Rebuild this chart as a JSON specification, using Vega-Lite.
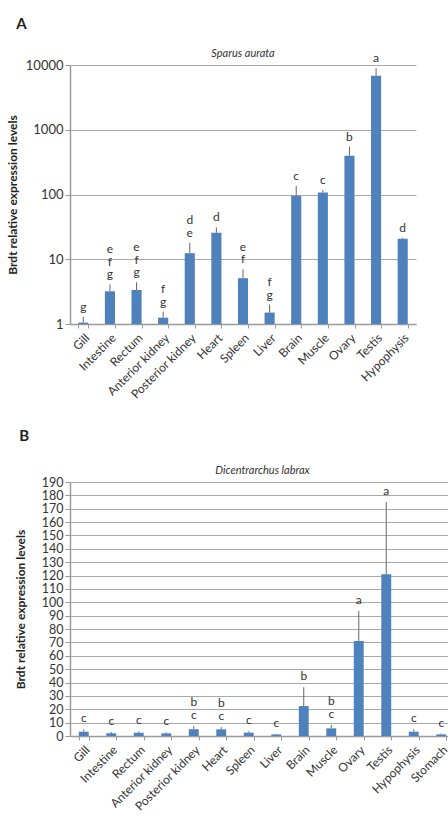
{
  "$schema": "https://vega.github.io/schema/vega-lite/v6.json",
  "background": "white",
  "padding": {"left": 6, "top": 17, "right": 0, "bottom": 0},
  "datasets": {
    "sa": [
      {"tissue": "Gill", "value": 1.05, "err": 1.3, "letter1": "g", "letter2": "", "letter3": ""},
      {"tissue": "Intestine", "value": 3.2, "err": 4.1, "letter1": "g", "letter2": "f", "letter3": "e"},
      {"tissue": "Rectum", "value": 3.35, "err": 4.4, "letter1": "g", "letter2": "f", "letter3": "e"},
      {"tissue": "Anterior kidney", "value": 1.25, "err": 1.55, "letter1": "g", "letter2": "f", "letter3": ""},
      {"tissue": "Posterior kidney", "value": 12.4, "err": 18, "letter1": "e", "letter2": "d", "letter3": ""},
      {"tissue": "Heart", "value": 25.7, "err": 31, "letter1": "d", "letter2": "", "letter3": ""},
      {"tissue": "Spleen", "value": 5.1, "err": 7, "letter1": "f", "letter2": "e", "letter3": ""},
      {"tissue": "Liver", "value": 1.5, "err": 2.0, "letter1": "g", "letter2": "f", "letter3": ""},
      {"tissue": "Brain", "value": 96, "err": 135, "letter1": "c", "letter2": "", "letter3": ""},
      {"tissue": "Muscle", "value": 107, "err": 117, "letter1": "c", "letter2": "", "letter3": ""},
      {"tissue": "Ovary", "value": 397, "err": 547, "letter1": "b", "letter2": "", "letter3": ""},
      {"tissue": "Testis", "value": 6840, "err": 8900, "letter1": "a", "letter2": "", "letter3": ""},
      {"tissue": "Hypophysis", "value": 20.8, "err": 21.5, "letter1": "d", "letter2": "", "letter3": ""}
    ],
    "dl": [
      {"tissue": "Gill", "value": 3.2, "err": 5, "letter1": "c", "letter2": ""},
      {"tissue": "Intestine", "value": 2, "err": 3, "letter1": "c", "letter2": ""},
      {"tissue": "Rectum", "value": 2.5, "err": 3.5, "letter1": "c", "letter2": ""},
      {"tissue": "Anterior kidney", "value": 2, "err": 2.8, "letter1": "c", "letter2": ""},
      {"tissue": "Posterior kidney", "value": 5, "err": 7.5, "letter1": "c", "letter2": "b"},
      {"tissue": "Heart", "value": 5, "err": 6.7, "letter1": "c", "letter2": "b"},
      {"tissue": "Spleen", "value": 2.5, "err": 3.5, "letter1": "c", "letter2": ""},
      {"tissue": "Liver", "value": 1.2, "err": 1.6, "letter1": "c", "letter2": ""},
      {"tissue": "Brain", "value": 22.4, "err": 36.5, "letter1": "b", "letter2": ""},
      {"tissue": "Muscle", "value": 5.7, "err": 8.2, "letter1": "c", "letter2": "b"},
      {"tissue": "Ovary", "value": 71, "err": 93.5, "letter1": "a", "letter2": ""},
      {"tissue": "Testis", "value": 121, "err": 175, "letter1": "a", "letter2": ""},
      {"tissue": "Hypophysis", "value": 3.2, "err": 5, "letter1": "c", "letter2": ""},
      {"tissue": "Stomach", "value": 1.2, "err": 1.8, "letter1": "c", "letter2": ""}
    ]
  },
  "config": {
    "font": "Lato",
    "view": {"stroke": null},
    "axis": {
      "labelColor": "#333333",
      "titleColor": "#222222",
      "domainColor": "#9a9a9a",
      "tickColor": "#9a9a9a",
      "gridColor": "#a8a8a8",
      "labelFont": "Lato",
      "titleFont": "Lato"
    },
    "text": {"font": "Lato", "fontSize": 12, "baseline": "bottom", "color": "#333333"},
    "title": {"font": "Lato", "color": "#222222"}
  },
  "spacing": 28,
  "vconcat": [
    {
      "title": {"text": "A", "anchor": "start", "frame": "bounds", "fontSize": 15, "fontWeight": "bold", "dx": 10, "offset": 16},
      "vconcat": [
        {
          "title": {"text": "Sparus aurata", "fontStyle": "italic", "fontWeight": "normal", "fontSize": 11, "anchor": "middle", "frame": "group", "offset": -7, "color": "#333333"},
          "width": 346,
          "height": 259,
          "data": {"name": "sa"},
          "encoding": {
            "x": {
              "field": "tissue", "type": "nominal", "sort": null,
              "scale": {"paddingInner": 0.62, "paddingOuter": 0.31},
              "axis": {"title": null, "labelAngle": -45, "labelFontSize": 12, "labelPadding": 4, "tickBand": "extent", "tickSize": 4, "grid": false, "domainWidth": 1.5}
            }
          },
          "layer": [
            {
              "mark": {"type": "bar", "color": "#4F81BD"},
              "encoding": {
                "y": {
                  "field": "value", "type": "quantitative",
                  "scale": {"type": "log", "domain": [1, 10000], "nice": false},
                  "axis": {"title": "Brdt relative expression levels", "titleFontWeight": "bold", "titleFontSize": 12, "titlePadding": 6, "values": [1, 10, 100, 1000, 10000], "format": "d", "labelFontSize": 13, "tickSize": 5, "grid": true, "domainWidth": 1.5, "labelOverlap": false}
                },
                "y2": {"datum": 1}
              }
            },
            {
              "mark": {"type": "rule", "color": "#666666", "strokeWidth": 1},
              "encoding": {
                "y": {"field": "value", "type": "quantitative",
                  "axis": {"title": "Brdt relative expression levels", "titleFontWeight": "bold", "titleFontSize": 12, "titlePadding": 6, "values": [1, 10, 100, 1000, 10000], "format": "d", "labelFontSize": 13, "tickSize": 5, "grid": true, "domainWidth": 1.5, "labelOverlap": false}},
                "y2": {"field": "err"}
              }
            },
            {
              "mark": {"type": "text", "dy": -3},
              "encoding": {
                "y": {"field": "err", "type": "quantitative",
                  "axis": {"title": "Brdt relative expression levels", "titleFontWeight": "bold", "titleFontSize": 12, "titlePadding": 6, "values": [1, 10, 100, 1000, 10000], "format": "d", "labelFontSize": 13, "tickSize": 5, "grid": true, "domainWidth": 1.5, "labelOverlap": false}},
                "text": {"field": "letter1"}
              }
            },
            {
              "transform": [{"filter": "datum.letter2 != ''"}],
              "mark": {"type": "text", "dy": -15.5},
              "encoding": {
                "y": {"field": "err", "type": "quantitative",
                  "axis": {"title": "Brdt relative expression levels", "titleFontWeight": "bold", "titleFontSize": 12, "titlePadding": 6, "values": [1, 10, 100, 1000, 10000], "format": "d", "labelFontSize": 13, "tickSize": 5, "grid": true, "domainWidth": 1.5, "labelOverlap": false}},
                "text": {"field": "letter2"}
              }
            },
            {
              "transform": [{"filter": "datum.letter3 != ''"}],
              "mark": {"type": "text", "dy": -28},
              "encoding": {
                "y": {"field": "err", "type": "quantitative",
                  "axis": {"title": "Brdt relative expression levels", "titleFontWeight": "bold", "titleFontSize": 12, "titlePadding": 6, "values": [1, 10, 100, 1000, 10000], "format": "d", "labelFontSize": 13, "tickSize": 5, "grid": true, "domainWidth": 1.5, "labelOverlap": false}},
                "text": {"field": "letter3"}
              }
            }
          ]
        }
      ]
    },
    {
      "title": {"text": "B", "anchor": "start", "frame": "bounds", "fontSize": 15, "fontWeight": "bold", "dx": 5, "offset": 21},
      "vconcat": [
        {
          "title": {"text": "Dicentrarchus labrax", "fontStyle": "italic", "fontWeight": "normal", "fontSize": 11, "anchor": "middle", "frame": "group", "offset": 0, "color": "#333333"},
          "width": 385,
          "height": 254,
          "data": {"name": "dl"},
          "encoding": {
            "x": {
              "field": "tissue", "type": "nominal", "sort": null,
              "scale": {"paddingInner": 0.64, "paddingOuter": 0.32},
              "axis": {"title": null, "labelAngle": -45, "labelFontSize": 12, "labelPadding": 4, "tickBand": "extent", "tickSize": 4, "grid": false, "domainWidth": 1.5}
            }
          },
          "layer": [
            {
              "mark": {"type": "bar", "color": "#4F81BD"},
              "encoding": {
                "y": {
                  "field": "value", "type": "quantitative",
                  "scale": {"domain": [0, 190], "nice": false},
                  "axis": {"title": "Brdt relative expression levels", "titleFontWeight": "bold", "titleFontSize": 12, "titlePadding": 14, "values": [0, 10, 20, 30, 40, 50, 60, 70, 80, 90, 100, 110, 120, 130, 140, 150, 160, 170, 180, 190], "labelFontSize": 12.5, "labelOverlap": false, "labelBound": false, "labelFlush": false, "tickSize": 5, "grid": true, "domainWidth": 1.5}
                }
              }
            },
            {
              "mark": {"type": "rule", "color": "#666666", "strokeWidth": 1},
              "encoding": {
                "y": {"field": "value", "type": "quantitative",
                  "axis": {"title": "Brdt relative expression levels", "titleFontWeight": "bold", "titleFontSize": 12, "titlePadding": 14, "values": [0, 10, 20, 30, 40, 50, 60, 70, 80, 90, 100, 110, 120, 130, 140, 150, 160, 170, 180, 190], "labelFontSize": 12.5, "labelOverlap": false, "labelBound": false, "labelFlush": false, "tickSize": 5, "grid": true, "domainWidth": 1.5}},
                "y2": {"field": "err"}
              }
            },
            {
              "mark": {"type": "text", "dy": -4},
              "encoding": {
                "y": {"field": "err", "type": "quantitative",
                  "axis": {"title": "Brdt relative expression levels", "titleFontWeight": "bold", "titleFontSize": 12, "titlePadding": 14, "values": [0, 10, 20, 30, 40, 50, 60, 70, 80, 90, 100, 110, 120, 130, 140, 150, 160, 170, 180, 190], "labelFontSize": 12.5, "labelOverlap": false, "labelBound": false, "labelFlush": false, "tickSize": 5, "grid": true, "domainWidth": 1.5}},
                "text": {"field": "letter1"}
              }
            },
            {
              "transform": [{"filter": "datum.letter2 != ''"}],
              "mark": {"type": "text", "dy": -17},
              "encoding": {
                "y": {"field": "err", "type": "quantitative",
                  "axis": {"title": "Brdt relative expression levels", "titleFontWeight": "bold", "titleFontSize": 12, "titlePadding": 14, "values": [0, 10, 20, 30, 40, 50, 60, 70, 80, 90, 100, 110, 120, 130, 140, 150, 160, 170, 180, 190], "labelFontSize": 12.5, "labelOverlap": false, "labelBound": false, "labelFlush": false, "tickSize": 5, "grid": true, "domainWidth": 1.5}},
                "text": {"field": "letter2"}
              }
            }
          ]
        }
      ]
    }
  ]
}
